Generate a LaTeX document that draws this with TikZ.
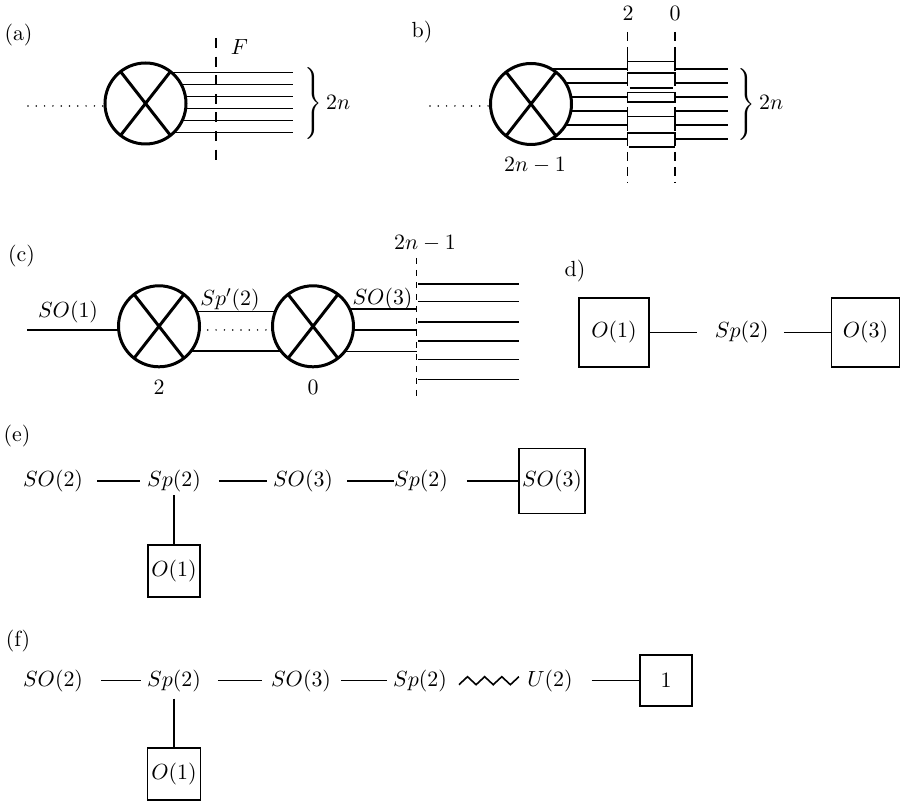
\documentclass[tikz,border=0pt]{standalone}
\usetikzlibrary{backgrounds}
\begin{document}
\tikzset{
  xcirc/.style={circle, draw, line width=1.5pt, fill=white, minimum size=40.5pt, inner sep=0pt, outer sep=0pt},
  crossline/.style={line width=1.5pt},
  wire/.style={line width=0.8pt},
  dotline/.style={line width=0.85pt, line cap=round, dash pattern=on 0pt off 4.15pt},
  cutA/.style={line width=0.8pt, dash pattern=on 5pt off 4.3pt},
  cutB/.style={line width=0.8pt, dash pattern=on 4.5pt off 3pt},
  cutC/.style={line width=0.8pt, dash pattern=on 3pt off 3pt},
  lab/.style={inner sep=0pt, font=\fontsize{10.95}{13}\selectfont},
  gbox/.style={draw, line width=0.8pt, inner sep=0pt, outer sep=0pt, font=\fontsize{10.95}{13}\selectfont},
}
\begin{tikzpicture}[x=0.5pt,y=-0.5pt]
\useasboundingbox (0,0) rectangle (902,801);

% ---------------- (a)
\node[lab] (la) at (18.5,35) {(a)};
\node[xcirc] (ca) at (145.5,103.5) {};
\draw[crossline] (ca.52) -- (ca.232) (ca.128) -- (ca.308);
\coordinate (adot) at (28,106);
\foreach \k in {0,...,5} \coordinate (ae\k) at (293,72.7+12*\k);
\begin{scope}[on background layer]
  \draw[dotline] (adot) -- (adot -| ca.center);
  \foreach \k in {0,...,5} \draw[wire] (ca.center |- ae\k) -- (ae\k);
\end{scope}
\coordinate (aF1) at (216,38);
\coordinate (aF2) at (216,168);
\draw[cutA] (aF1) -- (aF2);
\node[lab] (lF) at (239.5,47.5) {$F$};
\node[lab, anchor=west] (bra) at (302,104)
  {\delimiterfactor=1000 \delimitershortfall=0pt $\left.\vcenter{\hbox{\rule{0pt}{32pt}}}\right\}2n$};

% ---------------- (b)
\node[lab] (lb) at (422,32) {b)};
\node[xcirc] (cb) at (531,104) {};
\draw[crossline] (cb.52) -- (cb.232) (cb.128) -- (cb.308);
\node[lab] (lb21) at (535,165) {$2n-1$};
\coordinate (bdot) at (430,106);
\foreach \k in {0,...,5} {
  \coordinate (bl\k) at (627.5,69+14.06*\k);
  \coordinate (br\k) at (675,69+14.06*\k);
  \coordinate (be\k) at (728,69+14.06*\k);
}
\begin{scope}[on background layer]
  \draw[dotline] (bdot) -- (bdot -| cb.center);
  \foreach \k in {0,...,5} \draw[wire] (cb.center |- bl\k) -- (bl\k);
\end{scope}
\foreach \k in {0,...,5} \draw[wire] (br\k) -- (be\k);
\coordinate (bX1t) at (627.5,32); \coordinate (bX1b) at (627.5,183);
\coordinate (bX2t) at (675,32);   \coordinate (bX2b) at (675,183);
\draw[cutB] (bX1t) -- (bX1b);
\draw[cutB] (bX2t) -- (bX2b);
\node[lab] (lb2) at (628,13) {$2$};
\node[lab] (lb0) at (675,13) {$0$};
% crossings between the two cuts
\draw[wire] (627.5,55) -- (627.5,61.7) -- (675,61.7) -- (675,55);
\draw[wire] (bl1) -- (627.5,73.3) -- (675,73.3) -- (br1);
\draw[wire] (629.5,88.3) -- (673,88.3);
\draw[wire] (627.5,92.7) rectangle (675,102.3);
\draw[wire] (627.5,111.2) -- (627.5,121.7) (627.5,116.5) -- (675,116.5) (675,111.2) -- (675,121.7);
\draw[wire] (bl5) -- (627.5,133) -- (675,133) -- (br5);
\draw[wire] (629,147) -- (675,147);
\node[lab, anchor=west] (brb) at (735,104.5)
  {\delimiterfactor=1000 \delimitershortfall=0pt $\left.\vcenter{\hbox{\rule{0pt}{35pt}}}\right\}2n$};

% ---------------- (c)
\node[lab] (lc) at (21.6,256) {(c)};
\node[xcirc] (cc1) at (159,326.3) {};
\node[xcirc] (cc2) at (313,326.3) {};
\draw[crossline] (cc1.52) -- (cc1.232) (cc1.128) -- (cc1.308);
\draw[crossline] (cc2.52) -- (cc2.232) (cc2.128) -- (cc2.308);
\coordinate (cl) at (27,330);
\coordinate (cty) at (236,311.7);
\coordinate (cdy) at (236,330);
\coordinate (cby) at (236,351);
\coordinate (cr0) at (416.5,309.3);
\coordinate (cr1) at (416.5,330);
\coordinate (cr2) at (416.5,351.7);
\begin{scope}[on background layer]
  \draw[wire] (cl) -- (cl -| cc1.center);
  \draw[wire] (cty -| cc1.center) -- (cty -| cc2.center);
  \draw[dotline] (cdy -| cc1.east) -- (cdy -| cc2.center);
  \draw[wire] (cby -| cc1.center) -- (cby -| cc2.center);
  \foreach \k in {0,1,2} \draw[wire] (cc2.center |- cr\k) -- (cr\k);
\end{scope}
\coordinate (cXt) at (416.5,258); \coordinate (cXb) at (416.5,400);
\draw[cutC] (cXt) -- (cXb);
\foreach \y [count=\k] in {284,301.7,322.3,341,359.7,379.7} {
  \coordinate (cs\k) at (418,\y);
  \coordinate (ce\k) at (519,\y);
  \draw[wire] (cs\k) -- (ce\k);
}
\node[lab] (lso1) at (68,312) {$SO(1)$};
\node[lab] (lspp) at (230,300) {$Sp'(2)$};
\node[lab] (lso3) at (382.5,299) {$SO(3)$};
\node[lab] (lc21) at (425,243.5) {$2n-1$};
\node[lab] (lc2) at (159,387.5) {$2$};
\node[lab] (lc0) at (313,387.5) {$0$};

% ---------------- (d)
\node[lab] (ld) at (575,271) {d)};
\node[gbox, minimum width=35pt, minimum height=34.5pt] (do1) at (614,332.5) {$O(1)$};
\node[lab] (dsp) at (741.7,332.5) {$Sp(2)$};
\node[gbox, minimum width=34pt, minimum height=34.5pt] (do3) at (865.5,332.5) {$O(3)$};
\draw[wire, shorten >=8.7pt] (do1.east) -- (dsp.west);
\draw[wire, shorten <=7.5pt] (dsp.east) -- (do3.west);

% ---------------- (e)
\node[lab] (le) at (17,436) {(e)};
\node[lab] (e1) at (53,481) {$SO(2)$};
\node[lab] (e2) at (174,481) {$Sp(2)$};
\node[lab] (e3) at (303,481) {$SO(3)$};
\node[lab] (e4) at (421,481) {$Sp(2)$};
\node[gbox, minimum width=33pt, minimum height=32.5pt] (e5) at (552,481) {$SO(3)$};
\node[gbox, minimum width=26pt, minimum height=26pt] (e6) at (174,571) {$O(1)$};
\draw[wire, shorten <=6.9pt, shorten >=3.35pt] (e1.east) -- (e2.west);
\draw[wire, shorten <=8.85pt, shorten >=2.9pt] (e2.east) -- (e3.west);
\draw[wire, shorten <=6.9pt] (e3.east) -- (e4.west);
\draw[wire, shorten <=9.35pt] (e4.east) -- (e5.west);
\draw[wire, shorten <=1.5pt] (e2.south) -- (e6.north);

% ---------------- (f)
\node[lab] (lf) at (18,641) {(f)};
\node[lab] (f1) at (53,680.7) {$SO(2)$};
\node[lab] (f2) at (174,680.7) {$Sp(2)$};
\node[lab] (f3) at (301,680.7) {$SO(3)$};
\node[lab] (f4) at (420,680.7) {$Sp(2)$};
\node[lab] (f5) at (550,680.7) {$U(2)$};
\node[gbox, minimum width=26pt, minimum height=25.5pt] (f6) at (666,680.7) {$1$};
\node[gbox, minimum width=26.5pt, minimum height=26pt] (f7) at (174,774) {$O(1)$};
\draw[wire, shorten <=8.9pt, shorten >=2.85pt] (f1.east) -- (f2.west);
\draw[wire, shorten <=8.35pt, shorten >=4.4pt] (f2.east) -- (f3.west);
\draw[wire, shorten <=4.9pt, shorten >=2.85pt] (f3.east) -- (f4.west);
\draw[wire, line join=miter] ([xshift=5.85pt,yshift=-2pt]f4.east)
  -- ++(8.57,-8) -- ++(8.57,8) -- ++(8.57,-8) -- ++(8.57,8)
  -- ++(8.57,-8) -- ++(8.57,8) -- ++(8.57,-8);
\draw[wire, shorten <=9.25pt] (f5.east) -- (f6.west);
\draw[wire, shorten <=3.3pt] (f2.south) -- (f7.north);
\end{tikzpicture}
\end{document}
